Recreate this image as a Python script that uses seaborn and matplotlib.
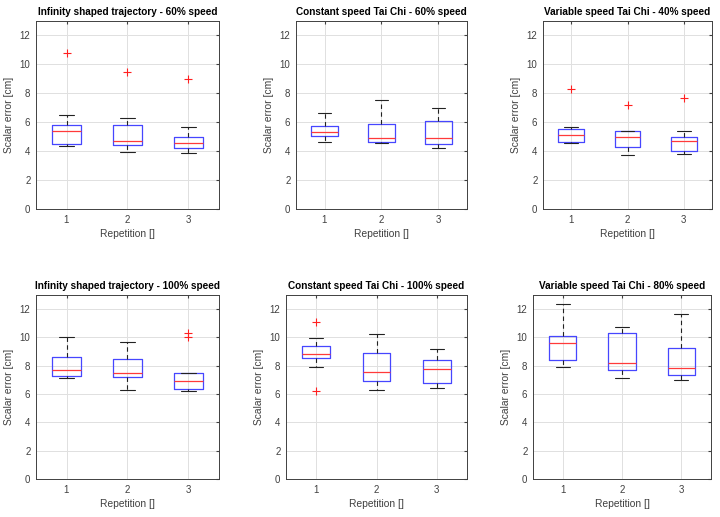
import numpy as np
import matplotlib
matplotlib.use("Agg")
import matplotlib.pyplot as plt
import seaborn as sns

titles = ["Infinity shaped trajectory - 60% speed",
          "Constant speed Tai Chi - 60% speed",
          "Variable speed Tai Chi - 40% speed",
          "Infinity shaped trajectory - 100% speed",
          "Constant speed Tai Chi - 100% speed",
          "Variable speed Tai Chi - 80% speed"]

repetitions = [1, 2, 3]

# box statistics per panel, one entry per repetition
whisk_lo = [[4.36, 3.94, 3.85], [4.66, 4.54, 4.22], [4.56, 3.74, 3.78],
            [7.16, 6.31, 6.22], [7.93, 6.29, 6.41], [7.89, 7.14, 6.97]]
q1 = [[4.50, 4.45, 4.24], [5.07, 4.63, 4.52], [4.66, 4.31, 4.01],
      [7.25, 7.18, 6.34], [8.54, 6.95, 6.76], [8.38, 7.70, 7.35]]
median = [[5.39, 4.68, 4.56], [5.32, 4.89, 4.89], [5.09, 4.98, 4.68],
          [7.70, 7.46, 6.90], [8.83, 7.56, 7.75], [9.62, 8.22, 7.86]]
q3 = [[5.80, 5.80, 4.95], [5.73, 5.89, 6.08], [5.53, 5.37, 4.95],
      [8.59, 8.45, 7.46], [9.37, 8.87, 8.43], [10.09, 10.28, 9.27]]
whisk_hi = [[6.51, 6.28, 5.69], [6.63, 7.55, 6.95], [5.69, 5.41, 5.39],
            [10.02, 9.69, 7.46], [9.98, 10.26, 9.18], [12.37, 10.77, 11.69]]
outliers = [[[10.76], [9.50], [8.97]],
            [[], [], []],
            [[8.28], [7.20], [7.71]],
            [[], [], [10.05, 10.28]],
            [[11.08, 6.24], [], []],
            [[], [], []]]

sns.set_style("whitegrid")
plt.rcParams['font.family'] = ['Liberation Sans', 'DejaVu Sans']

fig = plt.figure(figsize=(7.2, 5.17), dpi=100)
W, H = 720.0, 517.0
# axes boxes in pixels: left, top, right, bottom
boxes = [(36, 21, 219, 209), (296, 21, 467, 209), (543, 21, 712, 209),
         (36, 295, 219, 479), (286, 295, 467, 479), (533, 295, 711, 479)]

txt = "#404040"
for i, (l, t, r, b) in enumerate(boxes):
    ax = fig.add_axes([l / W, 1 - b / H, (r - l) / W, (b - t) / H])
    stats = []
    for j in range(3):
        stats.append(dict(whislo=whisk_lo[i][j], q1=q1[i][j], med=median[i][j],
                          q3=q3[i][j], whishi=whisk_hi[i][j],
                          fliers=outliers[i][j], label=str(repetitions[j])))
    ax.bxp(stats, positions=repetitions, widths=0.46, capwidths=0.24,
           boxprops=dict(color="#4646ff", linewidth=0.9),
           medianprops=dict(color="#ff3a3a", linewidth=0.9),
           whiskerprops=dict(color="#222222", linewidth=0.8, linestyle=(0, (4, 3))),
           capprops=dict(color="#222222", linewidth=0.8),
           flierprops=dict(marker="+", markeredgecolor="#ff2020",
                           markersize=6, markeredgewidth=0.8, linestyle="none"))
    ax.set_xlim(0.5, 3.5)
    ax.set_ylim(0, 13)
    ax.set_yticks(range(0, 13, 2))
    ax.set_xticks(repetitions)
    ax.set_xticklabels([str(x) for x in repetitions])
    ax.grid(True, color="#e0e0e0", linewidth=0.7)
    ax.set_axisbelow(True)
    for s in ax.spines.values():
        s.set_visible(True)
        s.set_color("#404040")
        s.set_linewidth(0.7)
    ax.tick_params(axis="both", labelsize=7, colors=txt, length=2,
                   direction="in", pad=4, top=True, right=True)
    ax.set_title(titles[i], fontsize=7.2, fontweight="bold", color="black", pad=4)
    ax.set_ylabel("Scalar error [cm]", fontsize=7.4, color=txt, labelpad=4)
    ax.set_xlabel("Repetition []", fontsize=7.4, color=txt, labelpad=3)

fig.savefig("out.png", dpi=100)
